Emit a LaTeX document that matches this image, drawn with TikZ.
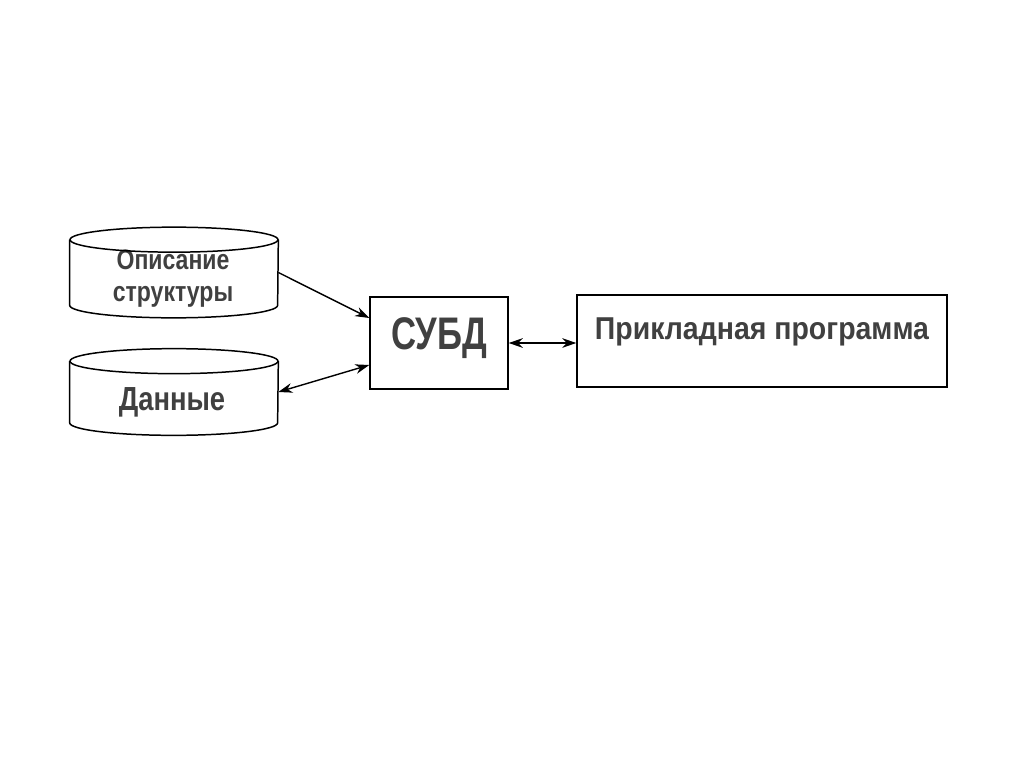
\documentclass[tikz,border=0pt]{standalone}
\usepackage{fontspec}
\setmainfont{Liberation Sans}
\newfontfamily\condfont[FakeStretch=0.82]{Liberation Sans}
\newfontfamily\narrowfont[FakeStretch=0.76]{Liberation Sans}
\newfontfamily\progfont[FakeStretch=0.9]{Liberation Sans}
\usetikzlibrary{arrows.meta}

\begin{document}
\begin{tikzpicture}[
    x=0.02cm, y=-0.02cm,
    box/.style={draw, line width=0.85pt, inner sep=0pt, text=black!75},
    dbbody/.style={minimum width=4.16cm, inner sep=0pt},
    dbtext/.style={inner sep=0pt, align=center, text=black!75,
                   font=\condfont\bfseries\fontsize{16}{18.2}\selectfont},
    dbline/.style={line width=0.85pt},
    link/.style={line width=0.8pt, -{Stealth[length=8pt,width=5.5pt]}},
    biglink/.style={line width=0.8pt, {Stealth[length=8pt,width=5.5pt]}-{Stealth[length=8pt,width=5.5pt]}},
]
\useasboundingbox (0,0) rectangle (1024,767);

% --- the two stores on the left ---
\node[dbbody, minimum height=1.3cm] (opis) at (174,272.5) {};
\node[dbbody, minimum height=1.22cm] (dann) at (174,392) {};
\node[dbtext] (opisText) at (173,279) {Описание\\структуры};
\node[dbtext, font=\condfont\bfseries\fontsize{19}{20}\selectfont] (dannText) at (172,402) {Данные};

\foreach \db in {opis,dann} {
  \draw[dbline] (\db.north) ellipse [x radius=2.08cm, y radius=0.25cm];
  \draw[dbline] (\db.north west) -- (\db.south west)
        arc[start angle=180, end angle=360, x radius=2.08cm, y radius=0.25cm]
        -- (\db.north east);
}

% --- DBMS and the application ---
\node[box, minimum width=2.76cm, minimum height=1.84cm, text depth=10.5pt,
      font=\narrowfont\bfseries\fontsize{26}{28}\selectfont] (subd) at (439,343) {СУБД};
\node[box, minimum width=7.4cm, minimum height=1.84cm, text depth=14pt,
      font=\progfont\bfseries\fontsize{18}{20}\selectfont] (prog) at (762,341) {Прикладная программа};

% --- connectors ---
\draw[link] (opis.east) -- ([yshift=0.5cm]subd.west);
\draw[biglink] (dann.east) -- ([yshift=-0.44cm]subd.west);
\draw[biglink] (subd.east) -- (prog.west |- subd.east);

\end{tikzpicture}
\end{document}
